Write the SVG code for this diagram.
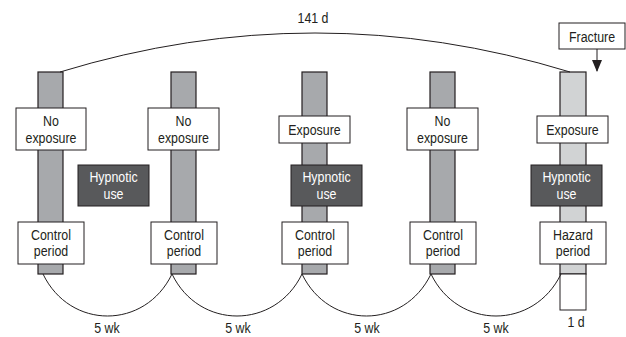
<svg xmlns="http://www.w3.org/2000/svg" width="626" height="337" viewBox="0 0 626 337">
<defs>
<style>
text{font-family:"Liberation Sans",Arial,sans-serif;font-size:15.5px;fill:#231f20;text-anchor:middle}
.wt{fill:#fff}
.bar{fill:#a7a9ac;stroke:#231f20;stroke-width:1.2}
.barL{fill:#d1d3d4;stroke:#231f20;stroke-width:1.2}
.box{fill:#fff;stroke:#231f20;stroke-width:1}
.dark{fill:#58595b;stroke:#231f20;stroke-width:1}
.conn{fill:none;stroke:#231f20;stroke-width:1}
</style>
<marker id="ah" markerWidth="12" markerHeight="10" refX="11" refY="5" orient="auto" markerUnits="userSpaceOnUse" viewBox="0 0 12 10">
<path d="M0,0 L12,5 L0,10 Z" fill="#231f20"/>
</marker>
</defs>
<rect width="626" height="337" fill="#fff"/>
<g id="bars">
<rect class="bar" x="38" y="72" width="25" height="202"/>
<rect class="bar" x="171" y="72" width="25" height="202"/>
<rect class="bar" x="302" y="72" width="25" height="202"/>
<rect class="bar" x="430" y="72" width="25" height="202"/>
<rect class="barL" x="560" y="72" width="26" height="202"/>
<rect class="box" x="560" y="274" width="26" height="36"/>
</g>
<g id="connectors">
<path class="conn" d="M60 72 Q315 -6 570 72"/>
<path class="conn" d="M43 274 C70 330 145 330 172 274"/>
<path class="conn" d="M172 274 C199 330 275 330 302 274"/>
<path class="conn" d="M302 274 C329 330 404 330 431 274"/>
<path class="conn" d="M431 274 C458 330 534 330 561 274"/>
<line class="conn" x1="597" y1="49" x2="597" y2="71" marker-end="url(#ah)"/>
</g>
<g id="exp1"><rect class="box" x="16" y="108" width="70" height="42"/><text transform="translate(51 126) scale(0.8 1)">No</text><text transform="translate(51 143) scale(0.8 1)">exposure</text></g>
<g id="exp2"><rect class="box" x="148" y="108" width="71" height="42"/><text transform="translate(183.5 126) scale(0.8 1)">No</text><text transform="translate(183.5 143) scale(0.8 1)">exposure</text></g>
<g id="exp3"><rect class="box" x="279" y="116" width="71" height="27"/><text transform="translate(314.5 135) scale(0.8 1)">Exposure</text></g>
<g id="exp4"><rect class="box" x="407" y="108" width="71" height="42"/><text transform="translate(442.5 126) scale(0.8 1)">No</text><text transform="translate(442.5 143) scale(0.8 1)">exposure</text></g>
<g id="exp5"><rect class="box" x="537" y="116" width="71" height="27"/><text transform="translate(572.5 135) scale(0.8 1)">Exposure</text></g>
<g id="hyp1"><rect class="dark" x="78" y="165" width="71" height="41"/><text class="wt" transform="translate(113.5 182) scale(0.8 1)">Hypnotic</text><text class="wt" transform="translate(113.5 199) scale(0.8 1)">use</text></g>
<g id="hyp3"><rect class="dark" x="291" y="165" width="71" height="41"/><text class="wt" transform="translate(326.5 182) scale(0.8 1)">Hypnotic</text><text class="wt" transform="translate(326.5 199) scale(0.8 1)">use</text></g>
<g id="hyp5"><rect class="dark" x="531" y="165" width="71" height="41"/><text class="wt" transform="translate(566.5 182) scale(0.8 1)">Hypnotic</text><text class="wt" transform="translate(566.5 199) scale(0.8 1)">use</text></g>
<g id="per1"><rect class="box" x="18" y="222" width="66" height="42"/><text transform="translate(51 240) scale(0.8 1)">Control</text><text transform="translate(51 256) scale(0.8 1)">period</text></g>
<g id="per2"><rect class="box" x="151" y="222" width="66" height="42"/><text transform="translate(184 240) scale(0.8 1)">Control</text><text transform="translate(184 256) scale(0.8 1)">period</text></g>
<g id="per3"><rect class="box" x="282" y="222" width="66" height="42"/><text transform="translate(315 240) scale(0.8 1)">Control</text><text transform="translate(315 256) scale(0.8 1)">period</text></g>
<g id="per4"><rect class="box" x="410" y="222" width="66" height="42"/><text transform="translate(443 240) scale(0.8 1)">Control</text><text transform="translate(443 256) scale(0.8 1)">period</text></g>
<g id="per5"><rect class="box" x="540" y="222" width="66" height="42"/><text transform="translate(573 240) scale(0.8 1)">Hazard</text><text transform="translate(573 256) scale(0.8 1)">period</text></g>
<g id="fracture"><rect class="box" x="559" y="23" width="66" height="26"/><text transform="translate(592 41.5) scale(0.8 1)">Fracture</text></g>
<g id="labels">
<text transform="translate(313 23) scale(0.8 1)">141 d</text>
<text transform="translate(107 333) scale(0.8 1)">5 wk</text>
<text transform="translate(238 333) scale(0.8 1)">5 wk</text>
<text transform="translate(367 333) scale(0.8 1)">5 wk</text>
<text transform="translate(496 333) scale(0.8 1)">5 wk</text>
<text transform="translate(576 327) scale(0.8 1)">1 d</text>
</g>
</svg>
